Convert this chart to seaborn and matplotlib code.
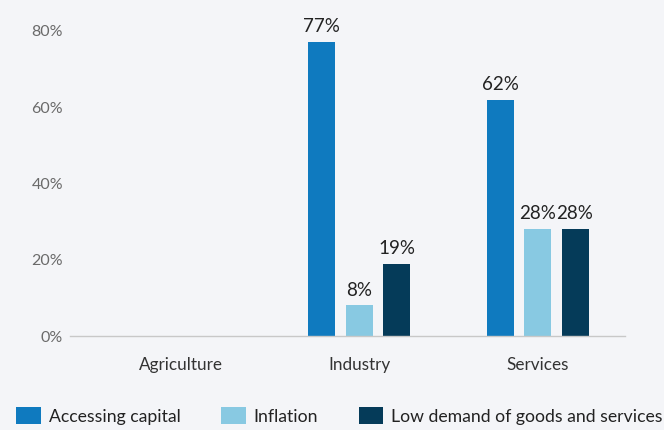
import numpy as np
import pandas as pd
import matplotlib
matplotlib.use("Agg")
import matplotlib.pyplot as plt
import seaborn as sns

# Share of firms citing each obstacle, by sector (%)
sectors = ["Agriculture", "Industry", "Services"]
obstacles = ["Accessing capital", "Inflation", "Low demand of goods and services"]
accessing_capital = [np.nan, 77, 62]
inflation = [np.nan, 8, 28]
low_demand = [np.nan, 19, 28]
y_ticks = [0, 20, 40, 60, 80]

palette = ["#0f7abf", "#88c9e2", "#053b59"]
bg = "#f4f5f8"

df = pd.DataFrame({
    "sector": sectors * 3,
    "obstacle": [o for o in obstacles for _ in sectors],
    "value": accessing_capital + inflation + low_demand,
})

sns.set_theme(style="white")
plt.rcParams["font.family"] = ["Lato", "DejaVu Sans"]

fig = plt.figure(figsize=(6.64, 4.30), dpi=100, facecolor=bg)
W, H = 664, 430
left, right, bottom, top = 70, 625, 336, 5
ax = fig.add_axes([left / W, 1 - bottom / H, (right - left) / W, (bottom - top) / H])
ax.set_facecolor(bg)

sns.barplot(data=df, x="sector", y="value", hue="obstacle", order=sectors,
            hue_order=obstacles, palette=palette, width=0.63, gap=0.28,
            linewidth=0, saturation=1, legend=True, ax=ax)

for container in ax.containers:
    labels = ["" if np.isnan(v) else f"{v:.0f}%" for v in container.datavalues]
    ax.bar_label(container, labels=labels, padding=5, fontsize=13.5, color="#222222")

ax.set_xlim(-0.62, 2.49)
ax.set_ylim(0, 86.8)
ax.set_yticks(y_ticks)
ax.set_yticklabels([f"{t}%" for t in y_ticks], fontsize=11.5, color="#6a6a6a")
ax.tick_params(axis="y", length=0, pad=5)
ax.tick_params(axis="x", length=0, pad=15, labelsize=12.3, labelcolor="#333333")
ax.set_xlabel("")
ax.set_ylabel("")
for s in ["left", "right", "top"]:
    ax.spines[s].set_visible(False)
ax.spines["bottom"].set_color("#c8c8c8")
ax.spines["bottom"].set_linewidth(1)

handles, lbls = ax.get_legend_handles_labels()
ax.get_legend().remove()
fig.legend(handles, lbls, loc="lower left", bbox_to_anchor=(0.0, -0.025), ncol=3,
           frameon=False, fontsize=12.7, handlelength=1.4, handleheight=1.1,
           handletextpad=0.45, columnspacing=2.3, labelcolor="#222222")

fig.savefig("out.png", dpi=100, facecolor=bg)
